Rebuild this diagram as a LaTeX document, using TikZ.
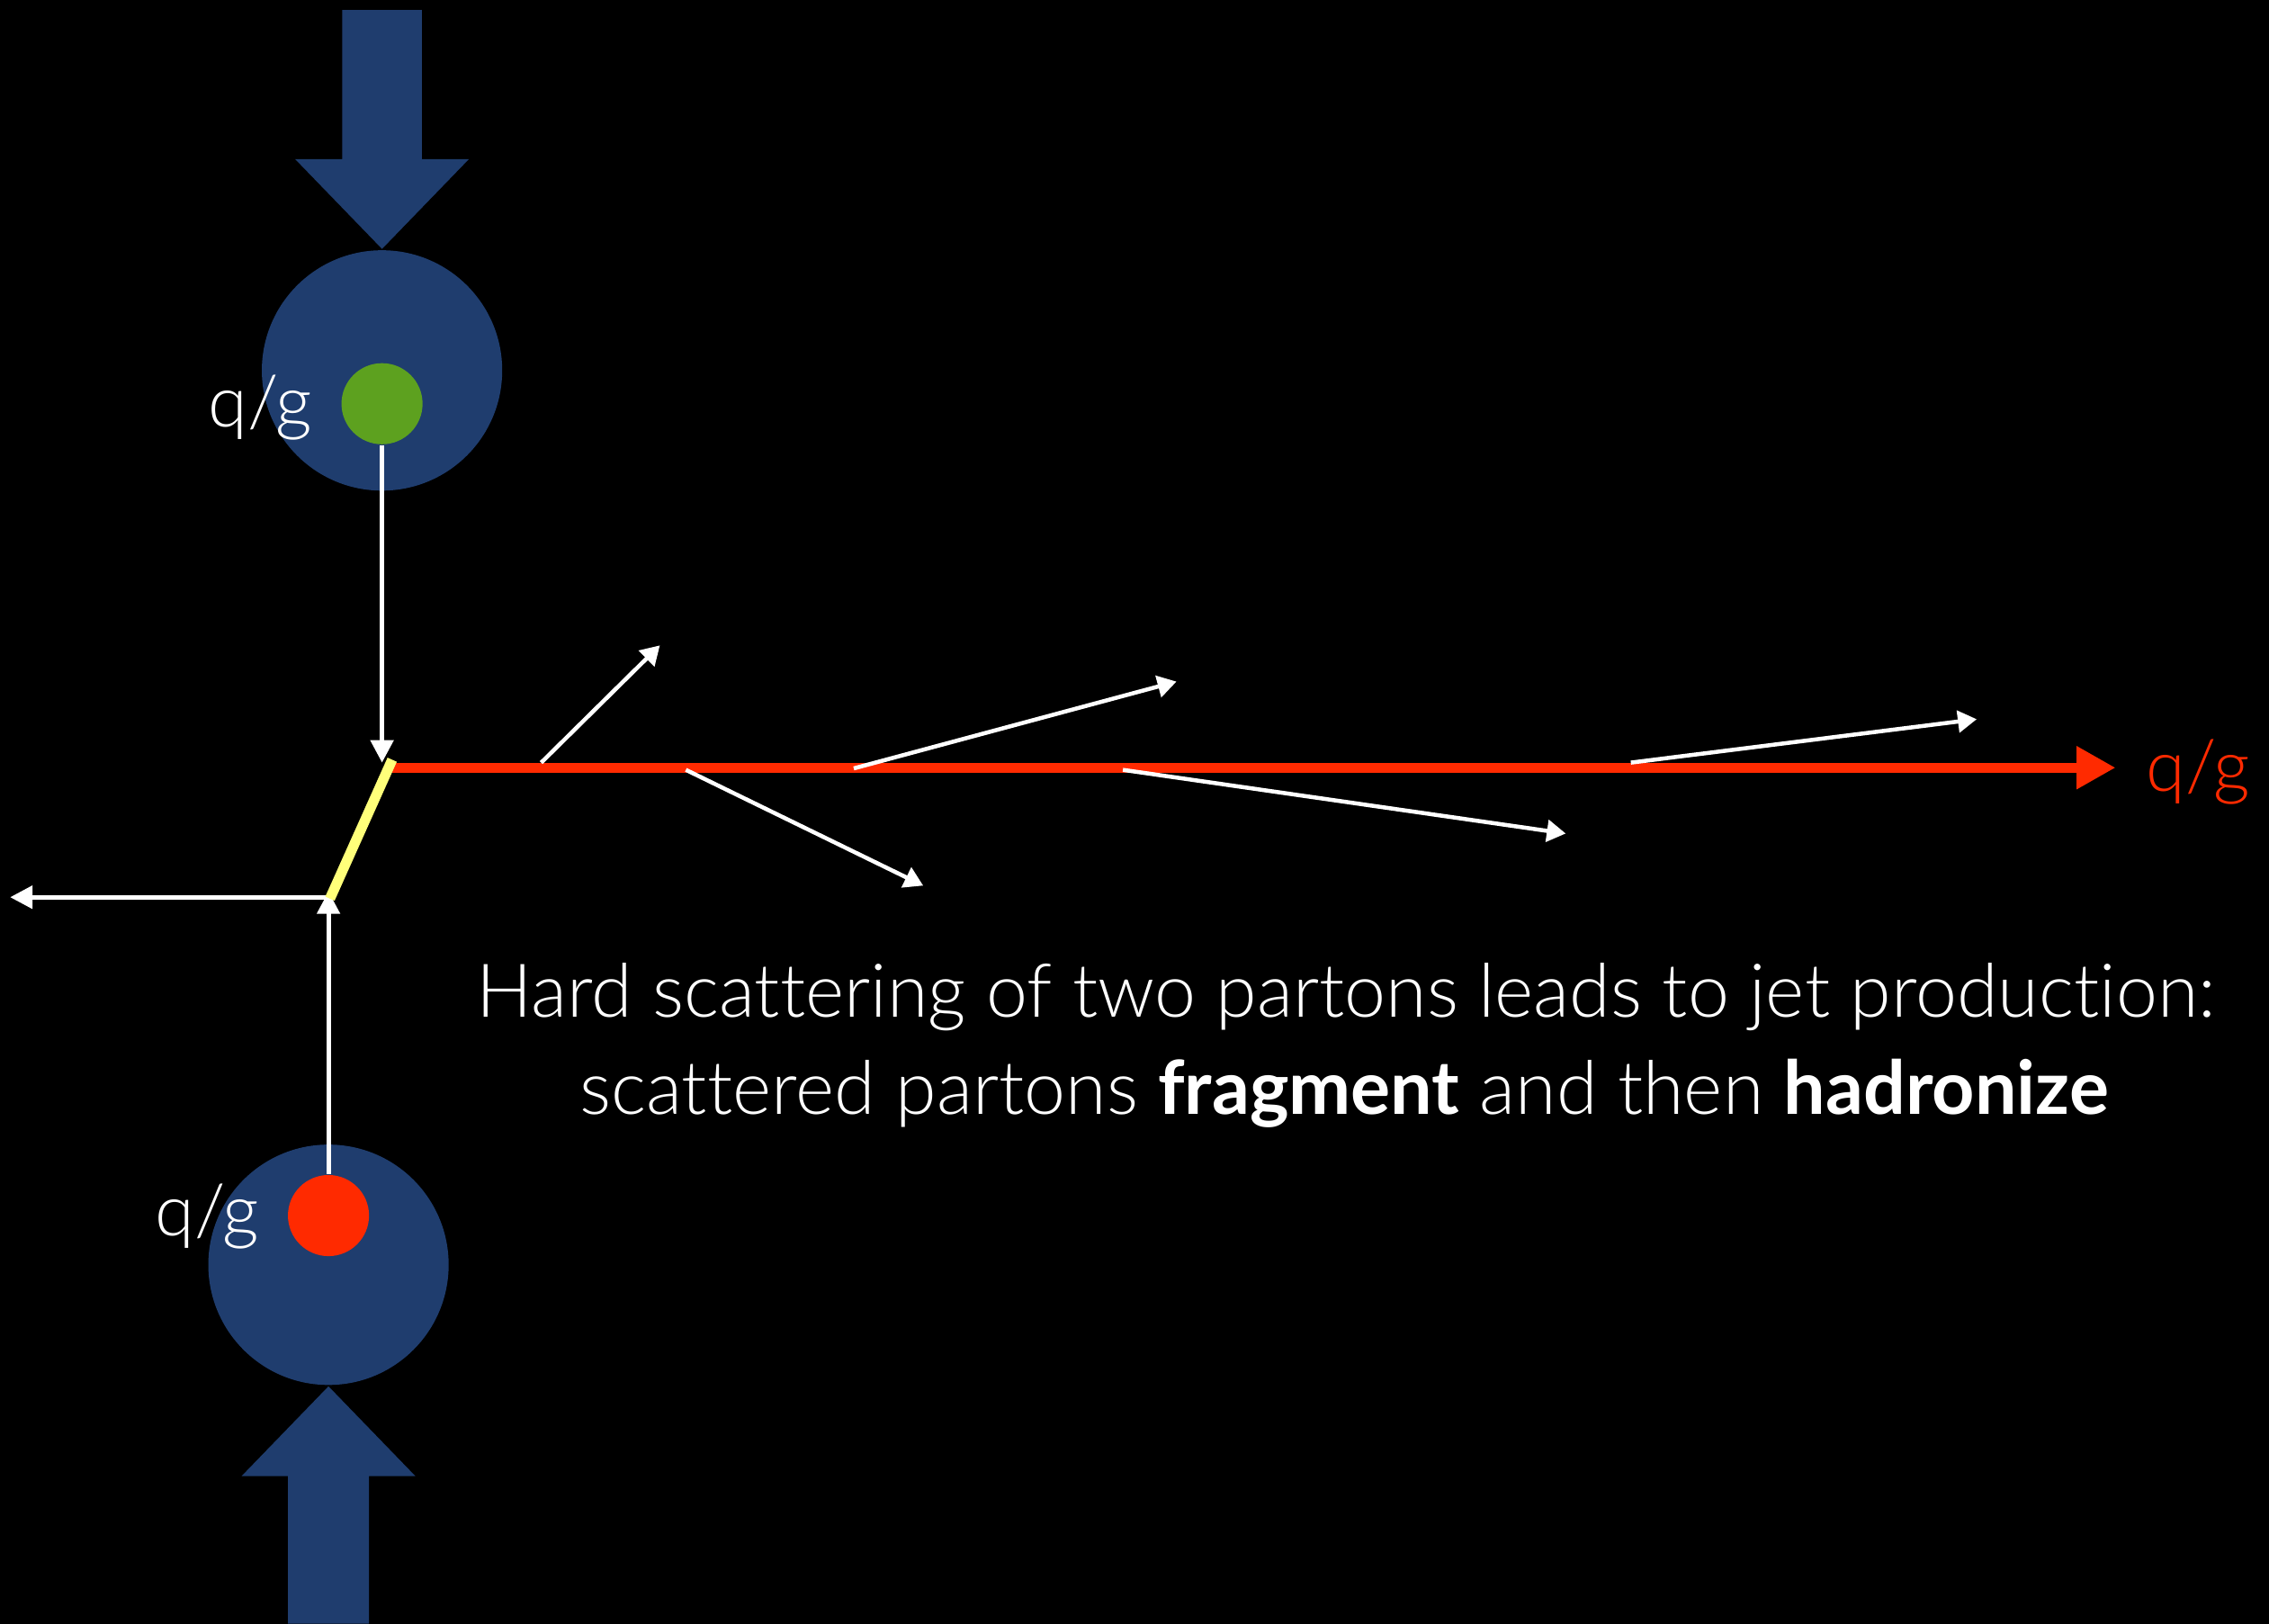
\documentclass[tikz,border=0pt]{standalone}
\usepackage{fontspec}
\setmainfont{Lato}[UprightFont=* Light, BoldFont=* Bold, Ligatures={NoCommon,NoRare}]
\usetikzlibrary{arrows.meta}
\definecolor{navy}{RGB}{31,61,110}
\definecolor{quarkgreen}{RGB}{93,161,31}
\definecolor{jetred}{RGB}{255,42,0}
\definecolor{hardyellow}{RGB}{255,255,122}
\begin{document}
\begin{tikzpicture}[x=0.01cm,y=-0.01cm,
  beam/.style={fill=navy},
  proton/.style={circle,fill=navy,inner sep=0pt,minimum size=1.66cm},
  parton/.style={circle,inner sep=0pt,minimum size=0.56cm},
  wline/.style={draw=white,line width=0.9pt,-{Triangle[length=0.155cm,width=0.155cm]}},
  frag/.style={draw=white,line width=0.8pt,-{Triangle[length=0.13cm,width=0.15cm]}},
  lbl/.style={text=white,font=\fontsize{14}{16}\selectfont,inner sep=0pt},
  maintext/.style={text=white,font=\fontsize{14.6}{17}\selectfont,inner sep=0pt},
]
% background
\fill[black] (0,0) rectangle (1568,1122);
\useasboundingbox (0,0) rectangle (1568,1122);

% incoming beams
\fill[beam] (236.5,7) -- (291.5,7) -- (291.5,110) -- (324,110) -- (264,172)
  -- (204,110) -- (236.5,110) -- cycle;
\fill[beam] (199,1122) -- (255,1122) -- (255,1020) -- (287,1020) -- (227,958)
  -- (167,1020) -- (199,1020) -- cycle;

% protons and partons
\node[proton] (pa) at (264,256) {};
\node[proton] (pb) at (227,874) {};
\node[parton,fill=quarkgreen] (qa) at (264,279) {};
\node[parton,fill=jetred] (qb) at (227,840) {};
\node[lbl,anchor=base] (la) at (180,295) {q/g};
\node[lbl,anchor=base] (lb) at (143,854) {q/g};

% hard scattering vertex
\coordinate (vin) at (264,527);
\coordinate (yA) at (271,525);
\coordinate (yB) at (228,621);
\coordinate (hs) at (271,530.5);
\coordinate (jetend) at (1462,530.5);
\coordinate (vlow) at (227,616);
\coordinate (recoil) at (7,620);
\coordinate (recoilstart) at (227,620);

\draw[wline] (qa.south) -- (vin);
\draw[wline] (qb.north) -- (vlow);
\draw[wline] (recoilstart) -- (recoil);
\draw[jetred,line width=2pt,-{Triangle[length=0.27cm,width=0.28cm]}] (hs) -- (jetend);
\draw[hardyellow,line width=2pt] (yA) -- (yB);
\node[lbl,text=jetred,anchor=base] (lc) at (1519,547) {q/g};

% fragmentation products
\coordinate (f1s) at (374,527);  \coordinate (f1e) at (456,446);
\coordinate (f2s) at (474,532);  \coordinate (f2e) at (638,612);
\coordinate (f3s) at (590,531);  \coordinate (f3e) at (813,471);
\coordinate (f4s) at (776,532);  \coordinate (f4e) at (1082,576);
\coordinate (f5s) at (1127,527); \coordinate (f5e) at (1366,497);
\draw[frag] (f1s) -- (f1e);
\draw[frag] (f2s) -- (f2e);
\draw[frag] (f3s) -- (f3e);
\draw[frag] (f4s) -- (f4e);
\draw[frag] (f5s) -- (f5e);

% caption
\node[maintext,anchor=base] (cap1) at (930,703) {Hard scattering of two partons leads to jet production:};
\node[maintext,anchor=base] (cap2) at (929,770) {scattered partons \textbf{fragment} and then \textbf{hadronize}};
\end{tikzpicture}
\end{document}
